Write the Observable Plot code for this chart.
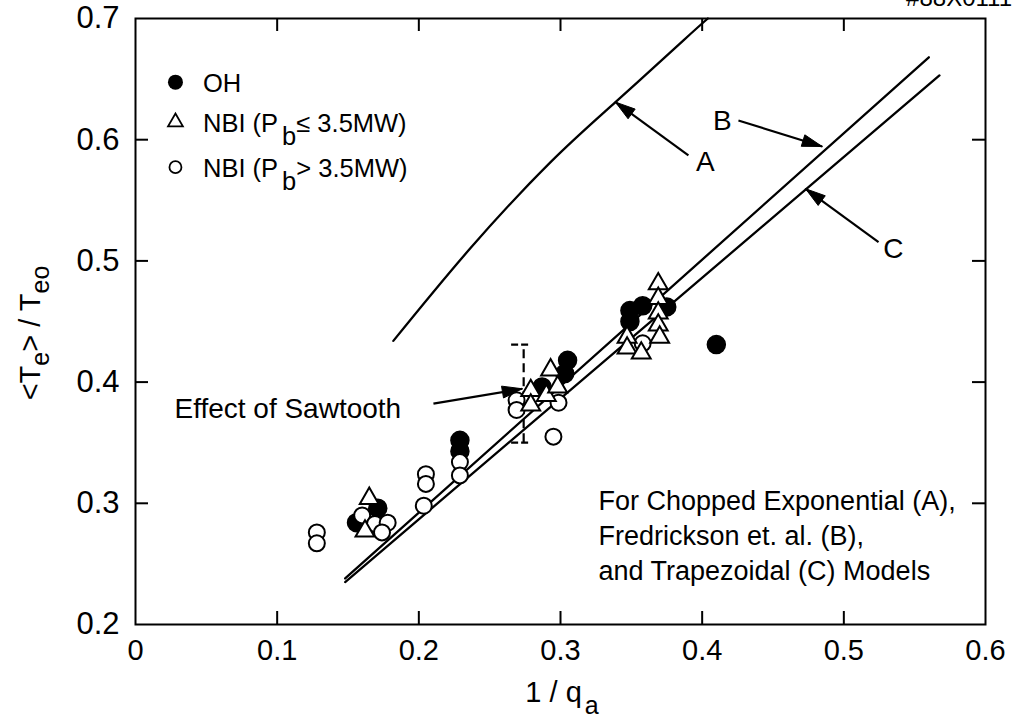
<!DOCTYPE html>
<html><head><meta charset="utf-8">
<script src="https://cdn.jsdelivr.net/npm/d3@7"></script>
<script src="https://cdn.jsdelivr.net/npm/@observablehq/plot@0.6"></script>
<style>
html,body{margin:0;padding:0;background:#fff;}
#chart{width:1018px;height:722px;}
</style></head><body><div id="chart"></div>
<script>
// Axis ticks
const xTicks = [0, 0.1, 0.2, 0.3, 0.4, 0.5, 0.6];
const yTicks = [0.2, 0.3, 0.4, 0.5, 0.6, 0.7];

// Measured profile ratios <Te>/Teo versus 1/qa
const ohPoints = [
  [0.156, 0.284], [0.171, 0.296], [0.229, 0.352], [0.229, 0.343],
  [0.287, 0.396], [0.305, 0.418], [0.303, 0.407], [0.349, 0.459],
  [0.349, 0.450], [0.358, 0.463], [0.375, 0.462], [0.410, 0.431]
];
const nbiLowPoints = [
  [0.165, 0.304], [0.162, 0.277], [0.279, 0.393], [0.279, 0.381],
  [0.293, 0.410], [0.290, 0.389], [0.298, 0.396], [0.347, 0.437],
  [0.347, 0.428], [0.357, 0.424], [0.369, 0.481], [0.369, 0.469],
  [0.369, 0.457], [0.369, 0.447], [0.370, 0.437]
];
const nbiHighPoints = [
  [0.128, 0.276], [0.128, 0.267], [0.160, 0.290], [0.169, 0.283],
  [0.178, 0.284], [0.174, 0.276], [0.205, 0.324], [0.205, 0.316],
  [0.2035, 0.298], [0.229, 0.334], [0.229, 0.323], [0.269, 0.385],
  [0.269, 0.377], [0.2986, 0.383], [0.295, 0.355], [0.358, 0.432]
];

// Model curves: chopped exponential (A), Fredrickson et al. (B), trapezoidal (C)
const modelA = [[0.182, 0.434], [0.2365, 0.5106], [0.293, 0.5815], [0.3388, 0.631], [0.3868, 0.682], [0.404, 0.700]];
const modelB = [[0.148, 0.238], [0.560, 0.668]];
const modelC = [[0.148, 0.235], [0.5675, 0.653]];

// Sawtooth effect range
const sawtooth = [{x: 0.274, lo: 0.350, hi: 0.431, capL: 0.2655, capR: 0.2785}];

// Labels with their pointer arrows
const pointers = [
  {label: "A", tx: 0.4023, ty: 0.5812, x1: 0.3903, y1: 0.587, x2: 0.3388, y2: 0.631},
  {label: "B", tx: 0.4143, ty: 0.6158, x1: 0.4256, y1: 0.6158, x2: 0.4847, y2: 0.5944},
  {label: "C", tx: 0.535, ty: 0.5102, x1: 0.5245, y1: 0.5154, x2: 0.473, y2: 0.5595}
];
const sawtoothPointer = [{x1: 0.2103, y1: 0.3823, x2: 0.273, y2: 0.3945}];

const W = 1018, H = 722;
const mL = 135, mR = 33, mT = 18, mB = 98;
const xDom = [0, 0.6], yDom = [0.2, 0.7];
const kx = (W - mL - mR) / (xDom[1] - xDom[0]);
const ky = (H - mT - mB) / (yDom[1] - yDom[0]);
const plotH = H - mT - mB, plotW = W - mL - mR;
const font = "'Liberation Sans', Arial, Helvetica, sans-serif";

// Filled arrowhead polygons, built in pixel proportions
function heads(arrows, L = 20, hw = 6) {
  const out = [];
  arrows.forEach((a, i) => {
    const px1 = a.x1 * kx, py1 = -a.y1 * ky, px2 = a.x2 * kx, py2 = -a.y2 * ky;
    const dx = px2 - px1, dy = py2 - py1, len = Math.hypot(dx, dy);
    const ux = dx / len, uy = dy / len;
    const bx = px2 - ux * L, by = py2 - uy * L;
    const nx = -uy, ny = ux;
    [[px2, py2], [bx + nx * hw, by + ny * hw], [bx - nx * hw, by - ny * hw], [px2, py2]]
      .forEach(([px, py]) => out.push({id: i, x: px / kx, y: -py / ky}));
  });
  return out;
}
const allPointers = [...pointers, ...sawtoothPointer];

// Legend symbol positions
const legendSym = [
  {kind: "oh", x: 0.0282, y: 0.6475},
  {kind: "low", x: 0.0282, y: 0.6145},
  {kind: "high", x: 0.0282, y: 0.5773}
];

const plot = Plot.plot({
  width: W, height: H,
  marginLeft: mL, marginRight: mR, marginTop: mT, marginBottom: mB,
  x: {domain: xDom},
  y: {domain: yDom},
  style: {fontFamily: font, background: "#fff", color: "#000"},
  marks: [
    Plot.frame({stroke: "#000", strokeWidth: 2}),
    // inward ticks on all four sides
    Plot.tickX(xTicks.slice(1, -1), {x: d => d, insetTop: plotH - 13, stroke: "#000", strokeWidth: 2}),
    Plot.tickX(xTicks.slice(1, -1), {x: d => d, insetBottom: plotH - 13, stroke: "#000", strokeWidth: 2}),
    Plot.tickY(yTicks.slice(1, -1), {y: d => d, insetRight: plotW - 13, stroke: "#000", strokeWidth: 2}),
    Plot.tickY(yTicks.slice(1, -1), {y: d => d, insetLeft: plotW - 13, stroke: "#000", strokeWidth: 2}),
    Plot.axisX({ticks: xTicks, tickSize: 0, tickPadding: 15, fontSize: 29, label: null, tickFormat: d => d === 0 ? "0" : String(d)}),
    Plot.axisY({ticks: yTicks, tickSize: 0, tickPadding: 16, fontSize: 31, label: null, tickFormat: d => d.toFixed(1)}),
    // model curves
    Plot.line(modelA, {x: d => d[0], y: d => d[1], curve: "natural", stroke: "#000", strokeWidth: 2.3}),
    Plot.line(modelB, {x: d => d[0], y: d => d[1], stroke: "#000", strokeWidth: 2.3}),
    Plot.line(modelC, {x: d => d[0], y: d => d[1], stroke: "#000", strokeWidth: 2.3}),
    // sawtooth range
    Plot.ruleX(sawtooth, {x: "x", y1: "lo", y2: "hi", stroke: "#000", strokeWidth: 2.2, strokeDasharray: "9,5"}),
    Plot.ruleY(sawtooth, {y: "hi", x1: "capL", x2: "capR", stroke: "#000", strokeWidth: 2.2, strokeDasharray: "7,3"}),
    Plot.ruleY(sawtooth, {y: "lo", x1: "capL", x2: "capR", stroke: "#000", strokeWidth: 2.2, strokeDasharray: "7,3"}),
    // data
    Plot.dot(ohPoints, {x: d => d[0], y: d => d[1], r: 9, fill: "#000", stroke: "#000"}),
    Plot.dot(nbiHighPoints, {x: d => d[0], y: d => d[1], r: 8, fill: "#fff", stroke: "#000", strokeWidth: 2}),
    Plot.dot(nbiLowPoints, {x: d => d[0], y: d => d[1], r: 7, symbol: "triangle", fill: "#fff", stroke: "#000", strokeWidth: 2}),
    // pointers
    Plot.link(allPointers, {x1: "x1", y1: "y1", x2: "x2", y2: "y2", stroke: "#000", strokeWidth: 2.2}),
    Plot.line(heads(allPointers), {x: "x", y: "y", z: "id", fill: "#000", stroke: "#000", strokeWidth: 1}),
    Plot.text(pointers, {x: "tx", y: "ty", text: "label", fontSize: 28, fill: "#000"}),
    Plot.text(["Effect of Sawtooth"], {x: 0.0275, y: 0.3774, text: d => d, textAnchor: "start", fontSize: 28, fill: "#000"}),
    Plot.text(["For Chopped Exponential (A),\nFredrickson et. al. (B),\nand Trapezoidal (C) Models"],
      {x: 0.3268, y: 0.275, text: d => d, textAnchor: "start", fontSize: 27, lineHeight: 1.3, fill: "#000"}),
    // legend symbols
    Plot.dot(legendSym.filter(d => d.kind === "oh"), {x: "x", y: "y", r: 7.5, fill: "#000"}),
    Plot.dot(legendSym.filter(d => d.kind === "low"), {x: "x", y: "y", r: 5.5, symbol: "triangle", fill: "#fff", stroke: "#000", strokeWidth: 1.8}),
    Plot.dot(legendSym.filter(d => d.kind === "high"), {x: "x", y: "y", r: 6, fill: "#fff", stroke: "#000", strokeWidth: 1.8})
  ]
});

document.getElementById("chart").appendChild(plot);

// Text with subscripts: legend entries and axis titles
const svg = d3.select(plot);
const sx = plot.scale("x"), sy = plot.scale("y");
const g = svg.append("g").attr("font-family", font).attr("fill", "#000");

const legendText = [
  {y: 0.6475, main: "OH"},
  {y: 0.6145, main: "NBI (P", sub: "b", rest: "\u2264 3.5MW)"},
  {y: 0.5773, main: "NBI (P", sub: "b", rest: "> 3.5MW)"}
];
legendText.forEach(d => {
  const t = g.append("text")
    .attr("x", sx.apply(0.048)).attr("y", sy.apply(d.y) + 10)
    .attr("text-anchor", "start")
    .attr("font-size", 25.5);
  t.append("tspan").text(d.main);
  if (d.sub) {
    t.append("tspan").attr("dx", 4).attr("dy", 13).text(d.sub);
    t.append("tspan").attr("dy", -13).text(d.rest);
  }
});

// y title
const yt = g.append("text")
  .attr("transform", `translate(40,${mT + plotH / 2 + 12}) rotate(-90)`)
  .attr("text-anchor", "middle").attr("font-size", 29);
yt.append("tspan").text("<T");
yt.append("tspan").attr("dy", 9).attr("font-size", 25).text("e");
yt.append("tspan").attr("dy", -9).text("> / T");
yt.append("tspan").attr("dy", 9).attr("font-size", 25).text("eo");

// x title
const xt = g.append("text")
  .attr("x", 562).attr("y", 702)
  .attr("text-anchor", "middle").attr("font-size", 29);
xt.append("tspan").text("1 / q");
xt.append("tspan").attr("dx", 3).attr("dy", 12).attr("font-size", 25).text("a");

// figure number at the top edge
g.append("text").attr("x", 1012).attr("y", 6).attr("text-anchor", "end")
  .attr("font-size", 24).text("#88X0111");
</script>
</body></html>
